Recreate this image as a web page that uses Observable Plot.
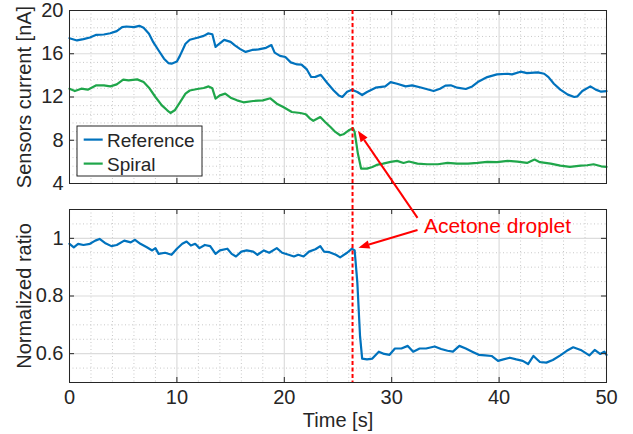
<!DOCTYPE html>
<html><head><meta charset="utf-8">
<script src="https://cdn.jsdelivr.net/npm/d3@7"></script>
<script src="https://cdn.jsdelivr.net/npm/@observablehq/plot@0.6"></script>
<style>
html,body{margin:0;padding:0;background:#fff;}
#chart{position:relative;width:633px;height:434px;overflow:hidden;background:#fff;}
#chart svg{display:block;}
#overlay{position:absolute;left:0;top:0;pointer-events:none;}
</style></head><body><div id="chart"></div>
<script>
// ---------- data ----------
const refTime = [0,0.7,1.3,1.9,2.5,3.2,3.8,4.4,4.9,5.3,6.0,6.5,6.9,7.4,7.8,8.3,8.8,9.2,9.5,10.0,10.3,10.8,11.2,11.9,12.5,12.9,13.3,13.6,14.0,14.4,15.0,15.4,15.9,16.4,17.0,17.6,18.3,18.8,19.1,19.6,20.1,20.6,21.2,21.6,22.1,22.5,22.9,23.4,24.0,24.6,25.07,25.4,25.85,26.3,26.8,27.25,27.7,28.5,29.4,29.9,30.5,31.3,31.9,32.8,33.9,34.5,35.0,35.5,36.1,36.9,37.5,38.1,38.9,39.8,40.8,41.2,42.0,42.6,43.6,44.2,44.6,45.1,45.7,46.4,47.0,47.3,47.75,48.5,49.0,49.5,50];
const refCurrent = [17.44,17.23,17.35,17.5,17.75,17.78,17.9,18.09,18.46,18.52,18.46,18.58,18.4,17.85,17.07,16.3,15.54,15.14,15.08,15.29,15.85,16.92,17.29,17.48,17.65,17.88,17.8,16.63,16.97,17.28,17.1,16.77,16.43,16.17,16.35,16.4,16.55,16.8,16.1,15.8,15.7,15.2,15.01,15.0,14.55,13.85,13.86,14.05,13.3,12.6,12.15,12.0,12.49,12.68,12.46,12.18,12.46,12.86,12.98,13.38,13.23,12.98,13.08,12.86,12.55,12.77,13.05,13.08,12.86,12.74,12.98,13.44,13.84,14.09,14.15,14.09,14.34,14.21,14.28,14.15,13.84,13.23,12.68,12.22,12.0,12.06,12.55,12.98,12.68,12.49,12.55];

const spiralTime = [0,0.5,1.1,1.7,2.5,3.2,3.8,4.4,5.0,5.5,6.3,6.9,7.4,8.0,8.6,9.1,9.4,9.8,10.3,10.8,11.2,11.9,12.5,12.95,13.3,13.6,14.0,14.5,15.0,15.6,16.2,17.1,18.0,18.7,19.3,19.9,20.7,21.5,22.0,22.4,22.7,23.35,23.8,24.3,24.75,25.2,25.5,26.0,26.4,26.55,26.85,27.15,27.7,28.2,28.6,29.2,29.9,30.5,31.1,31.6,32.4,33.3,34.3,35.2,36.1,37.1,38.0,38.9,39.8,40.8,41.7,42.6,43.3,43.8,44.8,45.7,46.6,47.6,48.2,48.8,49.5,50];
const spiralCurrent = [12.77,12.55,12.77,12.68,13.08,13.08,12.98,13.17,13.6,13.54,13.63,13.38,12.86,12.0,11.23,10.77,10.52,10.77,11.53,12.31,12.6,12.74,12.83,12.98,12.8,11.85,12.15,12.31,11.94,11.69,11.51,11.63,11.69,11.88,11.38,11.07,10.61,10.52,10.4,10.0,9.8,10.15,9.69,9.23,8.77,8.46,8.55,8.92,9.1,8.77,6.77,5.38,5.38,5.53,5.72,5.84,6.0,6.09,5.9,6.03,5.84,5.78,5.78,5.9,5.84,5.84,5.9,6.0,5.97,6.09,6.03,5.9,6.21,5.97,5.84,5.66,5.53,5.66,5.69,5.78,5.59,5.53];

const ratioTime = [0,0.4,0.8,1.3,1.9,2.4,2.8,3.3,3.9,4.4,5.1,5.7,6.1,6.6,7.2,7.7,8.0,8.3,8.9,9.5,10.0,10.5,10.9,11.3,11.7,12.1,12.6,13.1,13.6,14.0,14.7,15.1,15.5,16.0,16.5,17.1,17.5,18.1,18.6,19.3,19.8,20.4,20.9,21.3,21.8,22.3,22.9,23.35,23.7,24.2,24.8,25.2,25.85,26.3,26.55,26.8,27.05,27.25,27.7,28.2,28.8,29.3,29.8,30.3,30.9,31.5,32.0,32.6,33.2,34.0,34.6,35.2,35.7,36.3,36.9,37.5,38.1,38.7,39.3,39.9,40.4,41.0,41.6,42.2,42.7,43.2,43.8,44.4,45.0,45.7,46.3,46.9,47.6,48.4,48.9,49.4,49.8,50];
const ratioValue = [0.981,0.969,0.981,0.977,0.981,0.992,0.998,0.984,0.973,0.977,0.992,0.986,0.995,0.981,0.969,0.958,0.966,0.946,0.950,0.943,0.964,0.981,0.989,0.975,0.981,0.966,0.977,0.973,0.946,0.958,0.964,0.946,0.937,0.954,0.958,0.954,0.943,0.958,0.950,0.966,0.950,0.943,0.937,0.943,0.937,0.954,0.962,0.973,0.954,0.952,0.943,0.934,0.950,0.964,0.958,0.847,0.662,0.583,0.580,0.583,0.607,0.599,0.596,0.618,0.618,0.627,0.607,0.618,0.618,0.625,0.616,0.610,0.607,0.627,0.618,0.607,0.596,0.594,0.592,0.575,0.580,0.586,0.580,0.575,0.564,0.592,0.571,0.569,0.578,0.594,0.610,0.622,0.613,0.594,0.613,0.599,0.607,0.596];

const seriesNames = ["Reference", "Spiral"];
const eventTime = [26.4];
const annotationText = ["Acetone droplet"];

// ticks
const xTicks = [0,10,20,30,40,50];
const xTickLabels = ["0","10","20","30","40","50"];
const xMinor = [2,4,6,8,12,14,16,18,22,24,26,28,32,34,36,38,42,44,46,48];
const topYTicks = [4,8,12,16,20];
const topYTickLabels = ["4","8","12","16","20"];
const topYMinor = [4.8,5.6,6.4,7.2,8.8,9.6,10.4,11.2,12.8,13.6,14.4,15.2,16.8,17.6,18.4,19.2];
const botYTicks = [0.6,0.8,1];
const botYTickLabels = ["0.6","0.8","1"];
const botYMinor = [0.55,0.65,0.7,0.75,0.85,0.9,0.95,1.05];

// ---------- styling ----------
const BLUE = "#0072bd", GREEN = "#1fa64a", RED = "#ff0000", AX = "#262626";
const FONT = "'Liberation Sans', Arial, Helvetica, sans-serif";
const W = 633, ML = 69, MR = 27;
const plotW = W - ML - MR;

const refData = refTime.map((t, i) => ({t, v: refCurrent[i], s: seriesNames[0]}));
const spiralData = spiralTime.map((t, i) => ({t, v: spiralCurrent[i], s: seriesNames[1]}));
const ratioData = ratioTime.map((t, i) => ({t, v: ratioValue[i]}));

function frameMarks(yMajor, yMinor) {
  return [
    Plot.ruleX(xMinor, {x: d => d, stroke: "#c8c8c8", strokeDasharray: "1,2.5", strokeWidth: 1}),
    Plot.ruleY(yMinor, {y: d => d, stroke: "#c8c8c8", strokeDasharray: "1,2.5", strokeWidth: 1}),
    Plot.ruleX(xTicks, {x: d => d, stroke: "#dcdcdc", strokeWidth: 1.2}),
    Plot.ruleY(yMajor, {y: d => d, stroke: "#dcdcdc", strokeWidth: 1.2})
  ];
}
function tickMarks(yMajor, plotH) {
  return [
    Plot.tickY(yMajor, {y: d => d, insetRight: plotW - 5, stroke: AX}),
    Plot.tickY(yMajor, {y: d => d, insetLeft: plotW - 5, stroke: AX}),
    Plot.tickX(xTicks, {x: d => d, insetBottom: plotH - 5, stroke: AX}),
    Plot.tickX(xTicks, {x: d => d, insetTop: plotH - 5, stroke: AX}),
    Plot.frame({stroke: AX, strokeWidth: 1})
  ];
}

const topH = 195, topMT = 10, topMB = 12;
const topPlot = Plot.plot({
  width: W, height: topH, marginLeft: ML, marginRight: MR, marginTop: topMT, marginBottom: topMB,
  style: {fontFamily: FONT, fontSize: "20px", color: AX, background: "transparent", overflow: "visible"},
  x: {domain: [0, 50], axis: null},
  y: {domain: [4, 20], axis: null},
  marks: [
    ...frameMarks(topYTicks, topYMinor),
    Plot.line(refData, {x: "t", y: "v", stroke: BLUE, strokeWidth: 2.2}),
    Plot.line(spiralData, {x: "t", y: "v", stroke: GREEN, strokeWidth: 2.2}),
    ...tickMarks(topYTicks, topH - topMT - topMB),
    Plot.axisY(topYTicks, {anchor: "left", tickSize: 0, tickPadding: 6, fontSize: 20,
      tickFormat: d => topYTickLabels[topYTicks.indexOf(d)],
      label: "Sensors current [nA]", labelAnchor: "center", labelArrow: "none", labelOffset: 53})
  ]
});

const botH = 239, botMT = 14, botMB = 52;
const botPlot = Plot.plot({
  width: W, height: botH, marginLeft: ML, marginRight: MR, marginTop: botMT, marginBottom: botMB,
  style: {fontFamily: FONT, fontSize: "20px", color: AX, background: "transparent", overflow: "visible"},
  x: {domain: [0, 50], axis: null},
  y: {domain: [0.5, 1.1], axis: null},
  marks: [
    ...frameMarks(botYTicks, botYMinor),
    Plot.line(ratioData, {x: "t", y: "v", stroke: BLUE, strokeWidth: 2.2}),
    ...tickMarks(botYTicks, botH - botMT - botMB),
    Plot.axisY(botYTicks, {anchor: "left", tickSize: 0, tickPadding: 6, fontSize: 20,
      tickFormat: d => botYTickLabels[botYTicks.indexOf(d)],
      label: "Normalized ratio", labelAnchor: "center", labelArrow: "none", labelOffset: 53}),
    Plot.axisX(xTicks, {anchor: "bottom", tickSize: 0, tickPadding: 7, fontSize: 20,
      tickFormat: d => xTickLabels[xTicks.indexOf(d)],
      label: "Time [s]", labelAnchor: "center", labelArrow: "none", labelOffset: 44}),
    Plot.text(annotationText, {x: () => 33.0, y: () => 1.041, text: d => d, fill: RED, fontSize: 21, textAnchor: "start", lineAnchor: "middle"})
  ]
});

const chart = document.getElementById("chart");
chart.appendChild(topPlot);
chart.appendChild(botPlot);

// ---------- overlay: event line, arrows, legend ----------
const cRect = chart.getBoundingClientRect();
const tRect = topPlot.getBoundingClientRect();
const bRect = botPlot.getBoundingClientRect();
const tx = topPlot.scale("x"), ty = topPlot.scale("y");
const bx = botPlot.scale("x"), by = botPlot.scale("y");
const TX = v => tRect.left - cRect.left + tx.apply(v);
const TY = v => tRect.top - cRect.top + ty.apply(v);
const BX = v => bRect.left - cRect.left + bx.apply(v);
const BY = v => bRect.top - cRect.top + by.apply(v);

const ov = d3.select(chart).append("svg").attr("id", "overlay")
  .attr("width", W).attr("height", 434).style("font-family", FONT);

// dashed event line spanning both panels
ov.append("line")
  .attr("x1", TX(eventTime[0])).attr("x2", TX(eventTime[0]))
  .attr("y1", TY(20)).attr("y2", BY(0.5))
  .attr("stroke", RED).attr("stroke-width", 2).attr("stroke-dasharray", "4,2.5");

function arrow(x1, y1, x2, y2) {
  const a = Math.atan2(y2 - y1, x2 - x1), L = 11, H = 4.2;
  const bxp = x2 - L * Math.cos(a), byp = y2 - L * Math.sin(a);
  ov.append("line").attr("x1", x1).attr("y1", y1).attr("x2", bxp).attr("y2", byp)
    .attr("stroke", RED).attr("stroke-width", 2);
  const p = [[x2, y2], [bxp + H * Math.sin(a), byp - H * Math.cos(a)], [bxp - H * Math.sin(a), byp + H * Math.cos(a)]];
  ov.append("polygon").attr("points", p.map(d => d.join(",")).join(" ")).attr("fill", RED);
}
arrow(BX(32.45), BY(1.069), TX(26.9), TY(8.83));
arrow(BX(32.45), BY(1.027), BX(26.95), BY(0.966));

// legend
const lgX = TX(0) + 8, lgY = TY(4) - 57;
const lg = ov.append("g");
lg.append("rect").attr("x", lgX).attr("y", lgY).attr("width", 125).attr("height", 50)
  .attr("fill", "#fff").attr("stroke", AX).attr("stroke-width", 1);
[[BLUE, seriesNames[0], 13.6], [GREEN, seriesNames[1], 37.6]].forEach(([c, name, dy]) => {
  lg.append("line").attr("x1", lgX + 6.7).attr("x2", lgX + 25.7).attr("y1", lgY + dy).attr("y2", lgY + dy)
    .attr("stroke", c).attr("stroke-width", 2.2);
  lg.append("text").attr("x", lgX + 30).attr("y", lgY + dy + 7).attr("font-size", 19).attr("fill", AX).text(name);
});
</script></body></html>
